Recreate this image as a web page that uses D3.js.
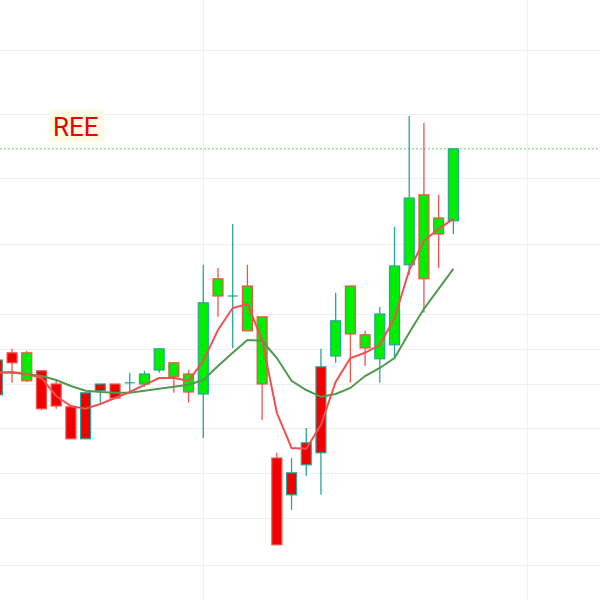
<!DOCTYPE html>
<html>
<head>
<meta charset="utf-8">
<script src="https://cdn.jsdelivr.net/npm/d3@7"></script>
<style>
  body { margin: 0; background: #fff; }
</style>
</head>
<body>
<div id="chart"></div>
<script>
// REE daily candles (index 0 = first, partly hidden session)
var opens  = [66.00, 66.18, 65.48, 65.73, 65.40, 64.83, 65.18, 65.40, 65.40, 65.43, 65.40, 65.75, 65.58, 65.20, 65.15, 67.60,
              67.60, 66.73, 65.40, 63.55, 63.18, 63.93, 65.83, 66.10, 66.65, 66.30, 66.03, 66.38, 68.38, 68.03, 69.15, 69.48];
var highs  = [66.05, 66.28, 66.23, 65.75, 65.48, 64.83, 65.18, 65.40, 65.40, 65.68, 65.73, 66.28, 65.93, 65.75, 68.38, 68.30,
              69.40, 68.38, 67.08, 63.68, 63.55, 64.30, 66.28, 67.68, 67.85, 66.73, 67.33, 69.33, 72.10, 71.93, 70.13, 71.28];
var lows   = [65.08, 65.43, 65.45, 64.75, 64.78, 64.03, 64.03, 64.93, 65.05, 65.18, 65.33, 65.68, 65.18, 64.93, 64.05, 67.08,
              66.30, 66.73, 64.50, 61.38, 62.25, 63.10, 62.63, 65.93, 65.43, 65.85, 65.43, 66.08, 68.13, 67.18, 68.30, 69.15];
var closes = [65.13, 65.93, 66.18, 64.78, 64.85, 64.03, 64.03, 65.23, 65.05, 65.43, 65.65, 66.28, 65.93, 65.65, 67.43, 68.03,
              67.60, 67.85, 67.08, 61.38, 62.63, 63.38, 63.68, 66.98, 67.85, 66.63, 67.15, 68.35, 70.05, 70.13, 69.55, 71.28];
// tick direction of each session (+1 up tick, -1 down tick)
var tickDir = [1, -1, -1, -1, -1, -1, 1, 1, -1, 1, 1, 1, -1, -1, 1, -1,
               1, -1, -1, -1, 1, 1, 1, 1, -1, -1, 1, 1, 1, -1, -1, 1];

var maFast = [65.68, 65.70, 65.65, 65.55, 65.10, 64.85, 64.78, 64.90, 65.05, 65.20, 65.38, 65.55, 65.55, 65.48, 65.98, 66.75,
              67.30, 67.40, 66.50, 64.68, 63.80, 63.78, 64.38, 65.45, 66.05, 66.18, 66.38, 67.05, 68.25, 68.98, 69.28, 69.53];
var maSlow = [65.70, 65.68, 65.65, 65.60, 65.50, 65.35, 65.23, 65.20, 65.18, 65.18, 65.23, 65.28, 65.33, 65.38, 65.50, 65.85,
              66.18, 66.50, 66.48, 66.05, 65.48, 65.25, 65.08, 65.15, 65.30, 65.60, 65.80, 66.05, 66.68, 67.28, 67.78, 68.28];

var gridPrices = [73.75, 72.15, 70.55, 68.90, 67.15, 66.28, 65.40, 64.30, 63.18, 62.05, 60.88];
var gridDays = [14, 36];
var symbol = 'REE';

var width = 600, height = 600;

var svg = d3.select('#chart').append('svg')
  .attr('width', width)
  .attr('height', height)
  .style('background', '#fff');

var x = d3.scaleLinear().domain([0.18, 40.97]).range([0, width]);
var y = d3.scaleLinear().domain([60, 75]).range([height, 0]);

var candles = d3.range(opens.length).map(function (i) {
  return { i: i, o: opens[i], h: highs[i], l: lows[i], c: closes[i], dir: tickDir[i] };
});

// grid
svg.append('g').selectAll('line.h')
  .data(gridPrices)
  .enter().append('line')
  .attr('x1', 0).attr('x2', width)
  .attr('y1', function (d) { return Math.round(y(d)) + 0.5; })
  .attr('y2', function (d) { return Math.round(y(d)) + 0.5; })
  .attr('stroke', '#efefef');

svg.append('g').selectAll('line.v')
  .data(gridDays)
  .enter().append('line')
  .attr('y1', 0).attr('y2', height)
  .attr('x1', function (d) { return Math.round(x(d)) + 0.5; })
  .attr('x2', function (d) { return Math.round(x(d)) + 0.5; })
  .attr('stroke', '#efefef');

// last price line
var last = closes[closes.length - 1];
svg.append('line')
  .attr('x1', 0).attr('x2', width)
  .attr('y1', y(last)).attr('y2', y(last))
  .attr('stroke', '#5fd65f')
  .attr('stroke-width', 1)
  .attr('stroke-dasharray', '2,2');

// symbol label
var lab = svg.append('g');
lab.append('rect')
  .attr('x', 50).attr('y', 110).attr('width', 54).attr('height', 32)
  .attr('fill', '#fffbe3');
lab.append('text')
  .attr('x', 53).attr('y', 136)
  .attr('font-family', 'Roboto, "Noto Sans", sans-serif')
  .attr('font-size', 26)
  .attr('fill', '#ec0000')
  .text(symbol);

var upCol = '#26a69a', downCol = '#ef5350';

// wicks
svg.append('g').selectAll('line')
  .data(candles)
  .enter().append('line')
  .attr('x1', function (d) { return x(d.i); })
  .attr('x2', function (d) { return x(d.i); })
  .attr('y1', function (d) { return y(d.h); })
  .attr('y2', function (d) { return y(d.l); })
  .attr('stroke', function (d) { return d.dir > 0 ? upCol : downCol; })
  .attr('stroke-width', 1.3);

// bodies
var bw = 10;
svg.append('g').selectAll('g')
  .data(candles)
  .enter().append('g')
  .each(function (d) {
    var g = d3.select(this);
    var col = d.dir > 0 ? upCol : downCol;
    if (d.o === d.c) {
      g.append('line')
        .attr('x1', x(d.i) - bw / 2).attr('x2', x(d.i) + bw / 2)
        .attr('y1', y(d.o)).attr('y2', y(d.o))
        .attr('stroke', col).attr('stroke-width', 1.3);
      return;
    }
    var top = y(Math.max(d.o, d.c)), bot = y(Math.min(d.o, d.c));
    g.append('rect')
      .attr('x', x(d.i) - bw / 2)
      .attr('y', top)
      .attr('width', bw)
      .attr('height', bot - top)
      .attr('fill', d.c > d.o ? '#00ee00' : '#f20000')
      .attr('stroke', col)
      .attr('stroke-width', 1.2);
  });

// moving averages
var line = d3.line()
  .x(function (d, i) { return x(i); })
  .y(function (d) { return y(d); });

svg.append('path')
  .datum(maSlow)
  .attr('d', line)
  .attr('fill', 'none')
  .attr('stroke', '#4f9a4f')
  .attr('stroke-width', 2);

svg.append('path')
  .datum(maFast)
  .attr('d', line)
  .attr('fill', 'none')
  .attr('stroke', '#f0504f')
  .attr('stroke-width', 2);
</script>
</body>
</html>
